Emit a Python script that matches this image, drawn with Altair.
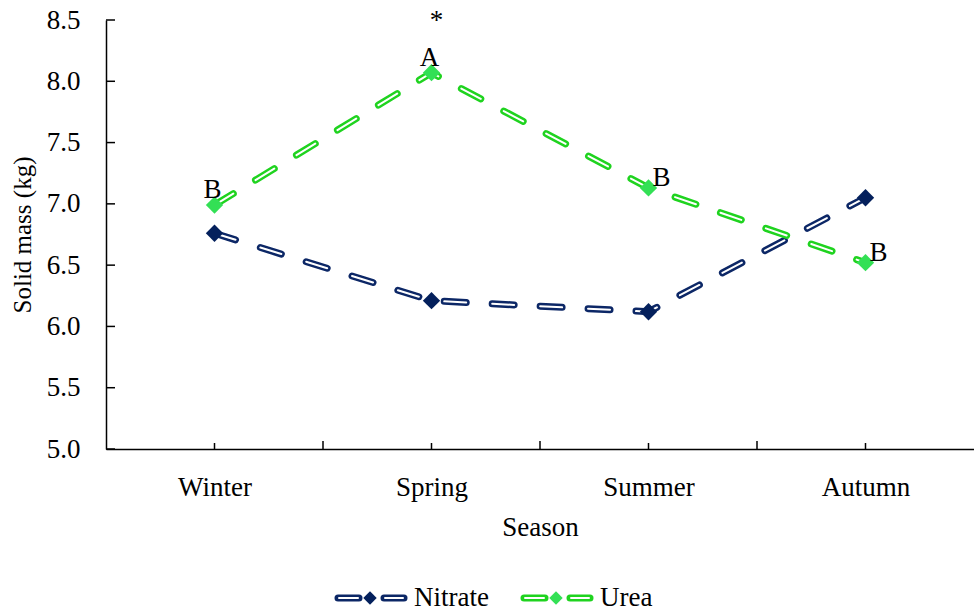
import json

import altair as alt
import pandas as pd

# Seasonal solid mass for the two nitrogen sources
seasons = ["Winter", "Spring", "Summer", "Autumn"]
nitrate = [6.76, 6.21, 6.12, 7.05]
urea = [6.99, 8.07, 7.13, 6.52]
urea_letters = ["B", "A", "B", "B"]
urea_marks = ["", "*", "", ""]
y_ticks = [5.0, 5.5, 6.0, 6.5, 7.0, 7.5, 8.0, 8.5]
series_names = ["Nitrate", "Urea"]

FONT = "Liberation Serif"
NAVY = "#0c2766"
NAVY_MARK = "#04205c"
GREEN_LINE = "#1fd31f"
GREEN_MARK = "#33e055"
W, H = 868, 429
DASH = [22, 26]
LETTER_ABOVE = ["Winter", "Spring"]

rows = []
for i, s in enumerate(seasons):
    rows.append({"idx": i, "season": s, "series": "Nitrate", "value": nitrate[i],
                 "letter": "", "mark": ""})
    rows.append({"idx": i, "season": s, "series": "Urea", "value": urea[i],
                 "letter": urea_letters[i], "mark": urea_marks[i]})
df = pd.DataFrame(rows)

x_scale = alt.Scale(domain=[-0.5, len(seasons) - 0.5], nice=False, zero=False)
y_scale = alt.Scale(domain=[y_ticks[0], y_ticks[-1]], nice=False, zero=False)

x_axis = alt.Axis(
    values=list(range(len(seasons))),
    labelExpr=json.dumps(seasons) + "[datum.value]",
    title="Season", ticks=False, grid=False,
    domainColor="black", domainWidth=1.5,
    labelFont=FONT, labelFontSize=27, labelColor="black",
    labelPadding=46, labelBaseline="alphabetic", labelFlush=False,
    labelOverlap=False,
    titleFont=FONT, titleFontSize=27, titleFontWeight="normal",
    titleColor="black", titleY=86, titleBaseline="alphabetic",
)
y_axis = alt.Axis(
    values=y_ticks, format=".1f", title="Solid mass (kg)",
    ticks=False, grid=False, domainColor="black", domainWidth=1.5,
    labelFont=FONT, labelFontSize=27, labelColor="black", labelPadding=26,
    labelFlush=False, labelOverlap=False,
    titleFont=FONT, titleFontSize=25, titleFontWeight="normal",
    titleColor="black", titleAngle=-90, titleX=-84, titleY=H / 2,
    titleAlign="center", titleBaseline="middle",
)

X = alt.X("idx:Q", scale=x_scale, axis=x_axis)
Y = alt.Y("value:Q", scale=y_scale, axis=y_axis)

# Inward tick marks
ytick_df = pd.DataFrame({"value": y_ticks})
y_tick_layer = alt.Chart(ytick_df).mark_rule(color="black", strokeWidth=1.5).encode(
    y=Y, x=alt.value(0), x2=alt.value(9)
)
bound_df = pd.DataFrame({"idx": [i + 0.5 for i in range(len(seasons) - 1)]})
x_bound_layer = alt.Chart(bound_df).mark_rule(color="black", strokeWidth=1.5).encode(
    x=X, y=alt.value(H), y2=alt.value(H - 8)
)
center_df = pd.DataFrame({"idx": list(range(len(seasons)))})
x_center_layer = alt.Chart(center_df).mark_rule(color="black", strokeWidth=1.5).encode(
    x=X, y=alt.value(H), y2=alt.value(H - 6)
)


def series_layers(name, line_color, marker_color):
    base = alt.Chart(df).transform_filter(alt.datum.series == name).encode(x=X, y=Y)
    outer = base.mark_line(color=line_color, strokeWidth=7, strokeDash=DASH,
                           strokeCap="round")
    inner = base.mark_line(color="white", strokeWidth=2, strokeDash=DASH,
                           strokeCap="round")
    markers = base.mark_point(shape="diamond", filled=True, size=300,
                              color=marker_color, opacity=1)
    return [outer, inner, markers]


urea_base = alt.Chart(df).transform_filter(alt.datum.series == "Urea").encode(x=X, y=Y)
text_style = dict(font=FONT, fontSize=27, color="black", baseline="alphabetic")
letters_above = urea_base.transform_filter(
    alt.FieldOneOfPredicate(field="season", oneOf=LETTER_ABOVE)
).mark_text(align="center", dx=-2, dy=-7, **text_style).encode(text="letter:N")
letters_right = urea_base.transform_filter(
    ~alt.FieldOneOfPredicate(field="season", oneOf=LETTER_ABOVE)
).mark_text(align="left", dx=4, dy=-2, **text_style).encode(text="letter:N")
stars = urea_base.transform_filter(alt.datum.mark != "").mark_text(
    align="center", dx=5, dy=-44, **text_style
).encode(text="mark:N")

# Legend drawn below the plot: double dashed segment, diamond, name
legend_df = pd.DataFrame({"series": series_names})
legend_layers = []
legend_y = 578
for name, bx, lc, mc in [("Nitrate", 229, NAVY, NAVY_MARK),
                         ("Urea", 415, GREEN_LINE, GREEN_MARK)]:
    lb = alt.Chart(legend_df).transform_filter(alt.datum.series == name)
    for x0, x1 in [(bx + 3, bx + 24), (bx + 49, bx + 69)]:
        legend_layers.append(lb.mark_rule(color=lc, strokeWidth=7, strokeCap="round").encode(
            x=alt.value(x0), x2=alt.value(x1), y=alt.value(legend_y)))
        legend_layers.append(lb.mark_rule(color="white", strokeWidth=2, strokeCap="round").encode(
            x=alt.value(x0 + 1), x2=alt.value(x1 - 1), y=alt.value(legend_y)))
    legend_layers.append(lb.mark_point(shape="diamond", filled=True, size=180,
                                       color=mc, opacity=1).encode(
        x=alt.value(bx + 35), y=alt.value(legend_y)))
    legend_layers.append(lb.mark_text(align="left", **text_style).encode(
        x=alt.value(bx + 79), y=alt.value(legend_y + 8), text="series:N"))

chart = alt.layer(
    y_tick_layer, x_bound_layer, x_center_layer,
    *series_layers("Nitrate", NAVY, NAVY_MARK),
    *series_layers("Urea", GREEN_LINE, GREEN_MARK),
    letters_above, letters_right, stars,
    *legend_layers,
).properties(
    width=W, height=H,
    autosize=alt.AutoSizeParams(type="none"),
    padding={"left": 106, "top": 20, "right": 0, "bottom": 165},
    background="white",
).configure_view(strokeWidth=0)

chart.save("out.html", embed_options={"renderer": "svg", "actions": False})
